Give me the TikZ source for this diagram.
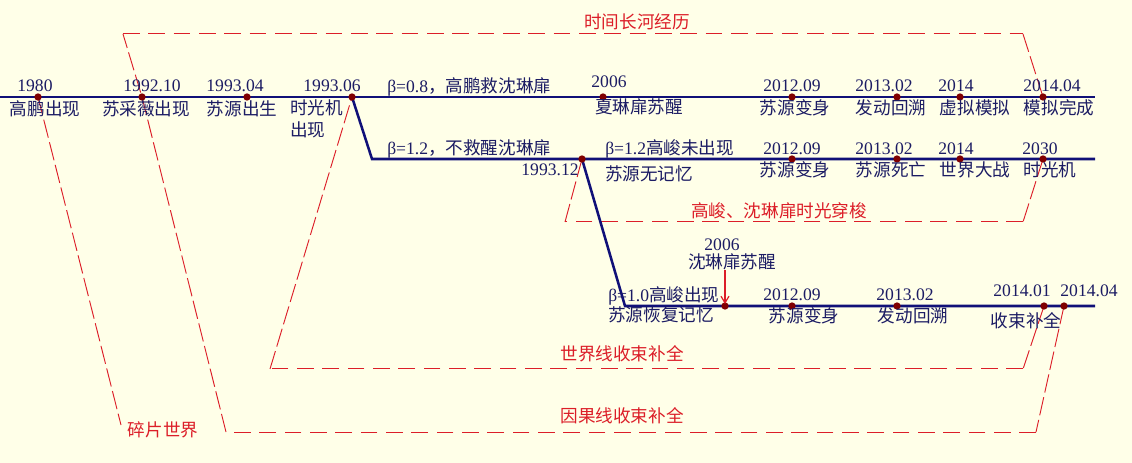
\documentclass[tikz,border=0pt]{standalone}
\usepackage{fontspec}
\setmainfont{Liberation Serif}
\newfontfamily\cjk{Noto Sans CJK SC}
\usetikzlibrary{arrows.meta}
\definecolor{bg}{RGB}{255,255,232}
\definecolor{navy}{RGB}{16,16,120}
\definecolor{txt}{RGB}{28,28,100}
\definecolor{dotc}{RGB}{128,0,0}
\definecolor{redl}{RGB}{220,30,40}
\begin{document}
\begin{tikzpicture}[x=0.75pt,y=-0.75pt,
  tl/.style={line width=1.9pt,draw=navy},
  ev/.style={circle,fill=dotc,inner sep=0pt,minimum size=5.5pt},
  dl/.style={draw=redl,line width=0.75pt,dash pattern=on 12.5pt off 6.5pt},
  dls/.style={draw=redl,line width=0.7pt,dash pattern=on 14pt off 3.5pt},
  dt/.style={text=txt,inner sep=0pt,font=\fontsize{13.2pt}{16.5pt}\selectfont},
  lb/.style={text=txt,inner sep=0pt,font=\cjk\fontsize{13.2pt}{16.5pt}\selectfont},
  rl/.style={text=redl,inner sep=0pt,font=\cjk\fontsize{13.2pt}{16.5pt}\selectfont}]
\fill[bg] (0,0) rectangle (1132,463);
\useasboundingbox (0,0) rectangle (1132,463);
% coordinates of events
\coordinate (l1s) at (0,97);   \coordinate (l1e) at (1095,97);
\coordinate (a1) at (38,97);   \coordinate (a2) at (142,97);
\coordinate (a3) at (247,97);  \coordinate (a4) at (352,97);
\coordinate (a5) at (603,97);  \coordinate (a6) at (792,97);
\coordinate (a7) at (897,97);  \coordinate (a8) at (960,97);
\coordinate (a9) at (1043,97);
\coordinate (l2c) at (372,159); \coordinate (l2e) at (1095,159);
\coordinate (b1) at (582,159); \coordinate (b2) at (792,159);
\coordinate (b3) at (897,159); \coordinate (b4) at (960,159);
\coordinate (b5) at (1043,159);
\coordinate (l3c) at (625,306); \coordinate (l3e) at (1095,306);
\coordinate (c1) at (725,306); \coordinate (c2) at (792,306);
\coordinate (c3) at (897,306); \coordinate (c4) at (1044,306);
\coordinate (c5) at (1064,306);
% dashed red paths
\coordinate (fragEnd) at (121,425);
\coordinate (kb1) at (1036,432); \coordinate (kb2) at (226,432);
\coordinate (kt1) at (123,34);   \coordinate (kt2) at (1023,34);
\coordinate (wb1) at (1023,369); \coordinate (wb2) at (270,369);
\coordinate (sb1) at (1023,222); \coordinate (sb2) at (565,222);
\draw[dls] (a1) -- (fragEnd);
\draw[dls] (c5) -- (kb1);
\draw[dl] (kb1) -- (kb2);
\draw[dls] (kb2) -- (a2) -- (kt1);
\draw[dl] (kt1) -- (kt2);
\draw[dls] (kt2) -- (a9);
\draw[dls] (c4) -- (wb1);
\draw[dl] (wb1) -- (wb2);
\draw[dls] (wb2) -- (a4);
\draw[dls] (b5) -- (sb1);
\draw[dl] (sb1) -- (sb2);
\draw[dls] (sb2) -- (b1);
% time lines
\draw[tl] (l1s) -- (l1e);
\draw[tl] (a4) -- (l2c) -- (l2e);
\draw[tl] (b1) -- (l3c) -- (l3e);
% dots
\foreach \p in {a1,a2,a3,a4,a5,a6,a7,a8,a9,b1,b2,b3,b4,b5,c1,c2,c3,c4,c5}
  \node[ev] (d\p) at (\p) {};
% red labels
\node[rl] (rTop) at (637,22) {时间长河经历};
\node[rl] (rShuttle) at (779,211) {高峻、沈琳扉时光穿梭};
\node[rl] (rWorld) at (622,354) {世界线收束补全};
\node[rl] (rCause) at (622,416) {因果线收束补全};
\node[rl] (rFrag) at (163,430) {碎片世界};
% line 1 labels
\node[dt] (t1) at (35,86) {1980};
\node[lb] (n1) at (45,109) {高鹏出现};
\node[dt] (t2) at (152,86) {1992.10};
\node[lb] (n2) at (146,109) {苏采薇出现};
\node[dt] (t3) at (235,86) {1993.04};
\node[lb] (n3) at (242,109) {苏源出生};
\node[dt] (t4) at (332,86) {1993.06};
\node[lb,anchor=north west,align=left] (n4) at (290,99) {时光机\\出现};
\node[dt,anchor=west] (beta08) at (387,87) {β=0.8{\cjk ，高鹏救沈琳扉}};
\node[dt] (t5) at (609,82) {2006};
\node[lb] (n5) at (639,107) {夏琳扉苏醒};
\node[dt] (t6) at (792,86) {2012.09};
\node[lb] (n6) at (795,108) {苏源变身};
\node[dt] (t7) at (884,86) {2013.02};
\node[lb] (n7) at (891,108) {发动回溯};
\node[dt] (t8) at (956,86) {2014};
\node[lb] (n8) at (975,108) {虚拟模拟};
\node[dt] (t9) at (1052,86) {2014.04};
\node[lb] (n9) at (1059,108) {模拟完成};
% line 2 labels
\node[dt,anchor=west] (beta12a) at (387,149) {β=1.2{\cjk ，不救醒沈琳扉}};
\node[dt] (u1) at (550,170) {1993.12};
\node[dt,anchor=west] (beta12b) at (605,149) {β=1.2{\cjk 高峻未出现}};
\node[lb] (m1) at (649,174) {苏源无记忆};
\node[dt] (u2) at (792,149) {2012.09};
\node[lb] (m2) at (795,170) {苏源变身};
\node[dt] (u3) at (884,149) {2013.02};
\node[lb] (m3) at (891,170) {苏源死亡};
\node[dt] (u4) at (956,149) {2014};
\node[lb] (m4) at (975,170) {世界大战};
\node[dt] (u5) at (1040,149) {2030};
\node[lb] (m5) at (1050,170) {时光机};
% line 3 labels
\node[dt] (v1) at (722,245) {2006};
\node[lb] (wake) at (732,262) {沈琳扉苏醒};
\node[dt,anchor=west] (beta10) at (608,296) {β=1.0{\cjk 高峻出现}};
\node[lb,anchor=west] (k1) at (608,315) {苏源恢复记忆};
\node[dt] (v2) at (792,295) {2012.09};
\node[lb] (k2) at (804,316) {苏源变身};
\node[dt] (v3) at (905,295) {2013.02};
\node[lb] (k3) at (913,316) {发动回溯};
\node[dt] (v4) at (1022,291) {2014.01};
\node[dt] (v5) at (1089,291) {2014.04};
\node[lb] (k4) at (1026,321) {收束补全};
% arrow
\draw[redl,line width=0.9pt,-{Straight Barb[length=5pt,width=6pt]}]
  (wake.south -| dc1) -- ([yshift=-1.5pt]dc1.north);
\end{tikzpicture}
\end{document}
